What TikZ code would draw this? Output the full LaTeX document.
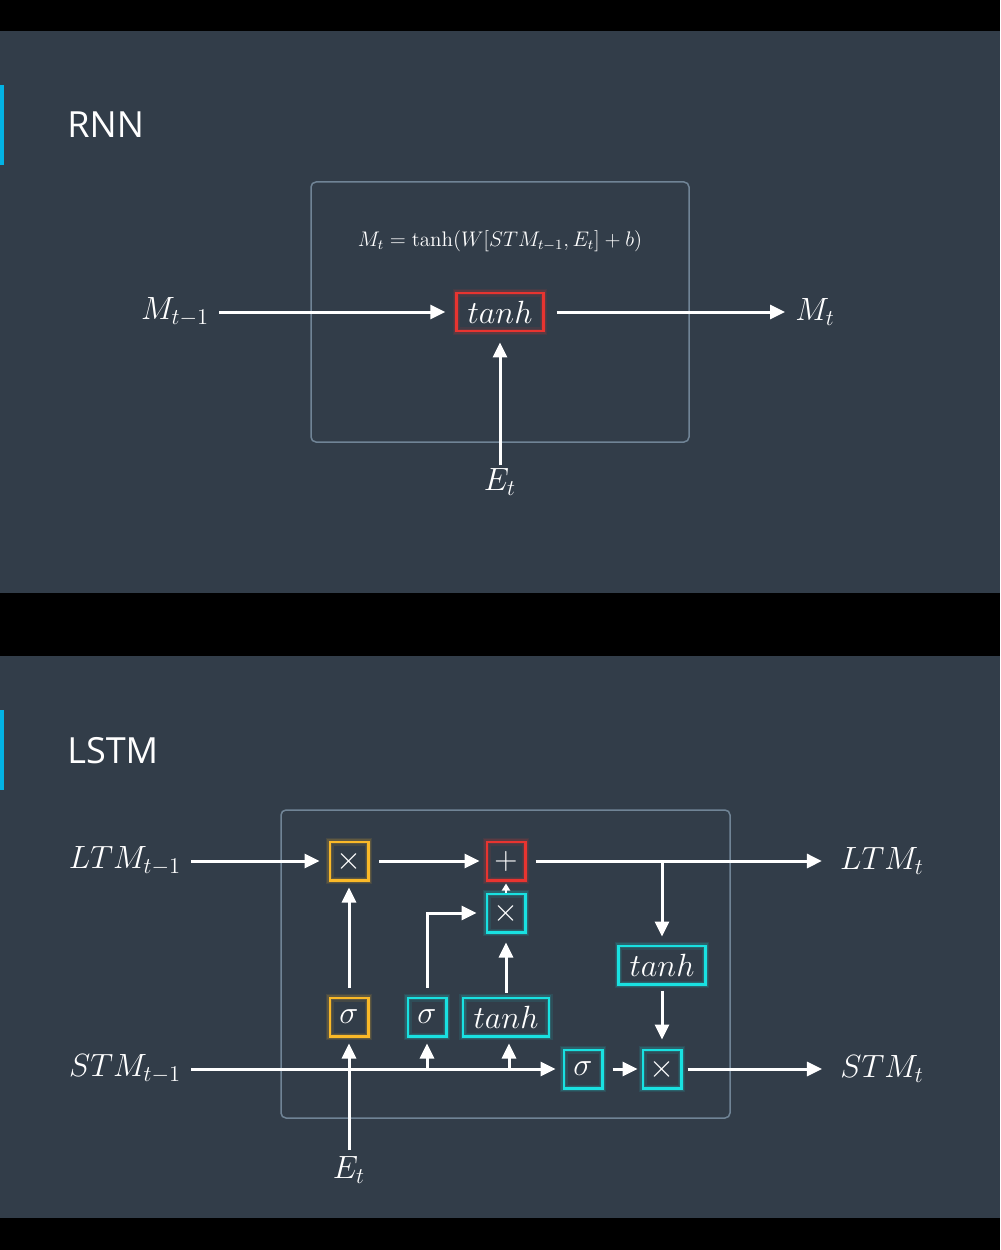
\documentclass[tikz,border=0pt]{standalone}
\usepackage{fix-cm}
\usepackage{fontspec}
\newfontfamily\titlefont{Open Sans}
\usetikzlibrary{arrows.meta,calc}
\definecolor{panel}{RGB}{50,61,73}
\definecolor{frame}{RGB}{112,132,150}
\definecolor{bar}{RGB}{2,179,228}
\definecolor{gyellow}{RGB}{250,185,40}
\definecolor{gcyan}{RGB}{25,225,225}
\definecolor{gred}{RGB}{232,52,48}
\begin{document}
\begin{tikzpicture}[x=0.02cm,y=-0.02cm,
  arr/.style={draw=white, line width=0.06cm, -{Triangle[length=0.3cm,width=0.28cm]}, shorten >=0.15cm},
  gate/.style={draw=#1, line width=0.05cm, minimum width=0.77cm, minimum height=0.77cm, inner sep=0pt,
    text=white, font=\fontsize{18.3}{21}\selectfont,
    preaction={draw=#1, line width=0.15cm, draw opacity=0.10},
    preaction={draw=#1, line width=0.10cm, draw opacity=0.15}},
  lab/.style={text=white, inner sep=0pt, font=\fontsize{18.3}{21}\selectfont},
  title/.style={text=white, inner sep=0pt, anchor=base west, font=\titlefont\fontsize{20.5}{24}\selectfont},
  cell/.style={draw=frame, line width=0.03cm, rounded corners=0.1cm}]
% background
\fill[black] (0,0) rectangle (1000,1250);
\useasboundingbox (0,0) rectangle (1000,1250);
\fill[panel] (0,31) rectangle (1000,593);
\fill[panel] (0,656) rectangle (1000,1218);
\fill[bar] (0,85) rectangle (4,165);
\fill[bar] (0,710) rectangle (4,790);
\node[title] (trnn) at (67,138) {RNN};
\node[title] (tlstm) at (67,763) {LSTM};

% ---------- RNN ----------
\draw[cell] (311,182) rectangle (689,442);
\node[text=white, font=\fontsize{12}{14}\selectfont] (eq) at (500,241) {$M_t = \tanh(W[STM_{t-1},E_t]+b)$};
\node[gate=gred, minimum width=1.74cm] (rt) at (500,312) {$tanh$};
\node[lab] (rmin) at (175,312) {$M_{t-1}$};
\node[lab] (rmout) at (815,312) {$M_t$};
\node[lab] (ret) at (500,482) {$E_t$};
\draw[arr, shorten <=0.2cm, shorten >=0.2cm] (rmin.east) -- (rt.west);
\draw[arr, shorten <=0.24cm, shorten >=0.2cm] (rt.east) -- (rmout.west);
\draw[arr, shorten <=0.06cm, shorten >=0.2cm] (ret.north) -- (rt.south);

% ---------- LSTM ----------
\draw[cell] (281,810) rectangle (730,1118);
\node[gate=gyellow] (xf) at (349,861) {$\times$};
\node[gate=gred] (pl) at (506,861) {$+$};
\node[gate=gcyan] (xi) at (506,913) {$\times$};
\node[gate=gcyan, minimum width=1.74cm] (tho) at (662,965) {$tanh$};
\node[gate=gyellow] (sf) at (349,1017) {$\sigma$};
\node[gate=gcyan] (si) at (427,1017) {$\sigma$};
\node[gate=gcyan, minimum width=1.72cm] (thi) at (506,1017) {$tanh$};
\node[gate=gcyan] (so) at (583,1069) {$\sigma$};
\node[gate=gcyan] (xo) at (662,1069) {$\times$};
\node[lab] (ltmin) at (125,861) {$LTM_{t-1}$};
\node[lab] (ltmout) at (882,861) {$LTM_t$};
\node[lab] (stmin) at (125,1069) {$STM_{t-1}$};
\node[lab] (stmout) at (882,1069) {$STM_t$};
\node[lab] (let) at (349,1170) {$E_t$};

\draw[arr, shorten <=0.2cm, shorten >=0.18cm] (ltmin.east) -- (xf.west);
\draw[arr, shorten <=0.2cm, shorten >=0.12cm] (xf.east) -- (pl.west);
\draw[arr, shorten <=0.18cm, shorten >=0.36cm] (pl.east) -- (ltmout.west);
\draw[arr, shorten >=0.16cm] (tho.north |- pl.east) -- (tho.north);
\draw[arr, shorten <=0.1cm, shorten >=0.18cm] (tho.south) -- (xo.north);
\draw[draw=white, line width=0.05cm, -{Triangle[length=0.14cm,width=0.16cm]}, shorten >=0.04cm] (xi.north) -- (pl.south);
\draw[arr, shorten <=0.18cm, shorten >=0.12cm] (sf.north) -- (xf.south);
\draw[arr, shorten <=0.18cm, shorten >=0.18cm] (si.north) |- (xi.west);
\draw[arr, shorten <=0.08cm, shorten >=0.18cm] (thi.north) -- (xi.south);
\draw[arr, shorten <=0.2cm, shorten >=0.14cm] (stmin.east) -- (so.west);
\draw[arr, shorten >=0.12cm] (si.south |- so.west) -- (si.south);
\draw[arr, shorten >=0.12cm] ([xshift=0.06cm]thi.south |- so.west) -- ([xshift=0.06cm]thi.south);
\draw[arr, shorten <=0.12cm, shorten >=0.12cm] (let.north) -- (sf.south);
\draw[arr, shorten <=0.18cm, shorten >=0.08cm] (so.east) -- (xo.west);
\draw[arr, shorten <=0.1cm, shorten >=0.36cm] (xo.east) -- (stmout.west);
\end{tikzpicture}
\end{document}
